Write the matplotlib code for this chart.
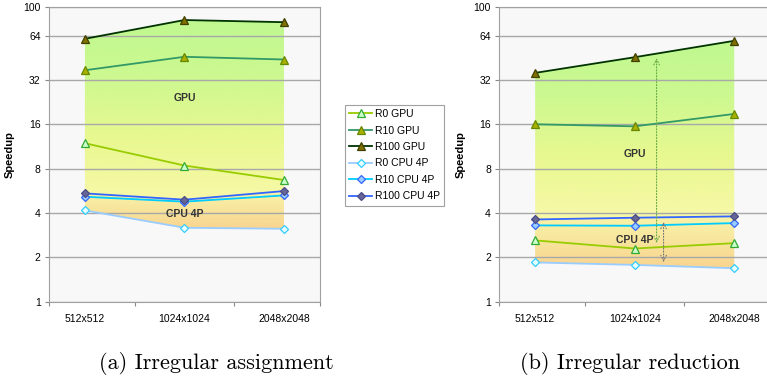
import numpy as np
import matplotlib
matplotlib.use("Agg")
import matplotlib.pyplot as plt
from matplotlib.colors import LinearSegmentedColormap
from matplotlib.patches import Polygon

plt.rcParams['font.family'] = ['Liberation Sans', 'DejaVu Sans']

sizes = ["512x512", "1024x1024", "2048x2048"]
series = ["R0 GPU", "R10 GPU", "R100 GPU", "R0 CPU 4P", "R10 CPU 4P", "R100 CPU 4P"]

# (a) irregular assignment
assign = {
    "R0 GPU": [11.9, 8.4, 6.7],
    "R10 GPU": [37.2, 45.9, 44.0],
    "R100 GPU": [60.8, 81.5, 78.8],
    "R0 CPU 4P": [4.17, 3.18, 3.13],
    "R10 CPU 4P": [5.16, 4.78, 5.27],
    "R100 CPU 4P": [5.44, 4.93, 5.64],
}
# (b) irregular reduction
reduct = {
    "R0 GPU": [2.61, 2.30, 2.50],
    "R10 GPU": [16.0, 15.5, 18.8],
    "R100 GPU": [35.7, 45.6, 58.9],
    "R0 CPU 4P": [1.85, 1.78, 1.69],
    "R10 CPU 4P": [3.30, 3.28, 3.42],
    "R100 CPU 4P": [3.62, 3.72, 3.80],
}
yticks = [1, 2, 4, 8, 16, 32, 64, 100]

styles = {
    "R0 GPU": dict(color="#99cc00", marker="^", mfc="#ccffcc", mec="#33aa33"),
    "R10 GPU": dict(color="#339966", marker="^", mfc="#aab000", mec="#668800"),
    "R100 GPU": dict(color="#003300", marker="^", mfc="#807000", mec="#404000"),
    "R0 CPU 4P": dict(color="#99ccff", marker="D", mfc="#e8ffff", mec="#33ccff"),
    "R10 CPU 4P": dict(color="#00ccff", marker="D", mfc="#99ccff", mec="#3366ff"),
    "R100 CPU 4P": dict(color="#3366ff", marker="D", mfc="#666699", mec="#4a4a88"),
}

gpu_cmap = LinearSegmentedColormap.from_list(
    "g", [(0, "#f8f8a8"), (0.35, "#e8f890"), (0.7, "#ccf890"), (1, "#c0f890")])
cpu_cmap = LinearSegmentedColormap.from_list("c", ["#f8d490", "#f8e49c", "#f8f4a8"])

fig = plt.figure(figsize=(7.67, 3.85), dpi=100)
ymax = np.log2(100)


def frac(v):
    return np.log2(v) / ymax


def gradient(ax, x, top, bot, cmap):
    pts = list(zip(x, top)) + list(zip(x[::-1], bot[::-1]))
    poly = Polygon(pts, closed=True, transform=ax.transData, facecolor="none", edgecolor="none")
    ax.add_patch(poly)
    y0 = frac(min(bot))
    y1 = frac(max(top))
    grad = np.linspace(0, 1, 256).reshape(-1, 1)
    im = ax.imshow(grad, cmap=cmap, aspect="auto", origin="lower",
                   extent=[0, 1, y0, y1], transform=ax.transAxes, zorder=1)
    im.set_clip_path(poly)


def panel(rect, data, gpu_lbl, cpu_lbl):
    ax = fig.add_axes(rect)
    ax.set_facecolor("#f8f8f8")
    x = np.arange(len(sizes))
    ax.set_yscale("log", base=2)
    ax.set_ylim(1, 100)
    ax.set_xlim(-0.36, 2.36)
    gradient(ax, x, np.array(data["R100 GPU"]), np.array(data["R100 CPU 4P"]), gpu_cmap)
    gradient(ax, x, np.array(data["R100 CPU 4P"]), np.array(data["R0 CPU 4P"]), cpu_cmap)
    for s in series:
        st = styles[s]
        ax.plot(x, data[s], color=st["color"], lw=1.3, marker=st["marker"],
                mfc=st["mfc"], mec=st["mec"], ms=6 if st["marker"] == "^" else 4.5,
                mew=0.9, label=s, zorder=3)
    ax.set_yticks(yticks)
    ax.set_yticklabels([str(t) for t in yticks], fontsize=7.5)
    ax.yaxis.set_minor_locator(matplotlib.ticker.NullLocator())
    ax.grid(axis="y", color="#a8a8a8", lw=1, zorder=0)
    ax.set_xticks([-0.36, 0.5, 1.5, 2.36])
    ax.set_xticklabels([])
    for xi, s in zip(x, sizes):
        ax.text(xi, -0.04, s, transform=ax.get_xaxis_transform(), ha="center",
                va="top", fontsize=7.5)
    ax.tick_params(axis="both", length=3, color="#888888", pad=3)
    for sp in ax.spines.values():
        sp.set_color("#a0a0a0")
    ax.set_ylabel("Speedup", fontsize=8, fontweight="bold", labelpad=6)
    ax.text(1, gpu_lbl, "GPU", ha="center", va="center", fontsize=7.5,
            fontweight="bold", color="#333333", zorder=4)
    ax.text(1, cpu_lbl, "CPU 4P", ha="center", va="center", fontsize=7.5,
            fontweight="bold", color="#333333", zorder=4)
    return ax


ax1 = panel([0.064, 0.216, 0.353, 0.766], assign, 24, 3.95)
ax2 = panel([0.651, 0.216, 0.353, 0.766], reduct, 10, 2.64)

# dotted range arrows in (b)
ax2.annotate("", xy=(1.22, 47), xytext=(1.22, 2.4),
             arrowprops=dict(arrowstyle="<->", ls=":", color="#66aa44", lw=0.8), zorder=4)
ax2.annotate("", xy=(1.29, 3.64), xytext=(1.29, 1.78),
             arrowprops=dict(arrowstyle="<->", ls=":", color="#777777", lw=0.8), zorder=4)

handles, labels = ax1.get_legend_handles_labels()
leg = fig.legend(handles, labels, loc="upper left", bbox_to_anchor=(0.443, 0.741),
                 fontsize=7.5, frameon=True, fancybox=False, edgecolor="#888888",
                 handlelength=2.2, labelspacing=0.62, borderpad=0.4, handletextpad=0.3)
leg.get_frame().set_linewidth(0.8)

fig.text(0.282, 0.055, "(a) Irregular assignment", ha="center", va="center",
         fontsize=16, family="cmr10")
fig.text(0.821, 0.055, "(b) Irregular reduction", ha="center", va="center",
         fontsize=16, family="cmr10")

fig.savefig("out.png", dpi=100)
